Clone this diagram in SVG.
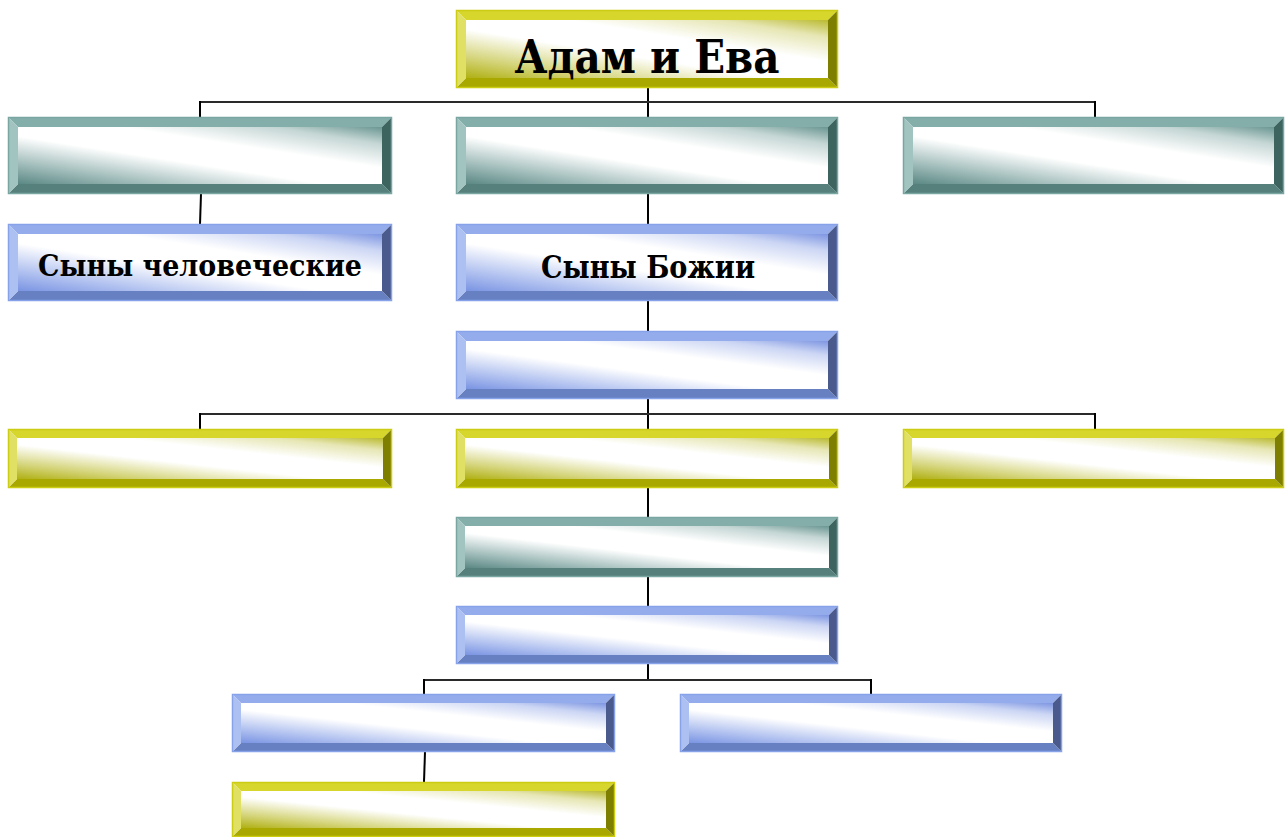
<svg xmlns="http://www.w3.org/2000/svg" width="1285" height="837" viewBox="0 0 1285 837">
<defs>
<linearGradient id="gy" x1="0" y1="1" x2="1" y2="0">
<stop offset="0" stop-color="#b0b014"/><stop offset="0.18" stop-color="#d4d47a"/><stop offset="0.42" stop-color="#ffffff"/><stop offset="0.64" stop-color="#ffffff"/><stop offset="0.85" stop-color="#e6e6b4"/><stop offset="1" stop-color="#baba30"/>
</linearGradient>
<linearGradient id="gt" x1="0" y1="1" x2="1" y2="0">
<stop offset="0" stop-color="#5b8884"/><stop offset="0.18" stop-color="#a0bcba"/><stop offset="0.42" stop-color="#ffffff"/><stop offset="0.64" stop-color="#ffffff"/><stop offset="0.85" stop-color="#c4d6d4"/><stop offset="1" stop-color="#6a9692"/>
</linearGradient>
<linearGradient id="gb" x1="0" y1="1" x2="1" y2="0">
<stop offset="0" stop-color="#7a94e2"/><stop offset="0.18" stop-color="#b2c2f0"/><stop offset="0.42" stop-color="#ffffff"/><stop offset="0.64" stop-color="#ffffff"/><stop offset="0.85" stop-color="#ccd6f4"/><stop offset="1" stop-color="#7e96e2"/>
</linearGradient>
</defs>
<style>
.yl .top{fill:#d6d62c}.yl .lft{fill:#e0e064}.yl .rgt{fill:#7e7e00}.yl .bot{fill:#a8a800}.yl .face{fill:url(#gy)}.yl .edge{stroke:#cccc14}
.tl .top{fill:#84aeaa}.tl .lft{fill:#a2c4c0}.tl .rgt{fill:#3e6460}.tl .bot{fill:#55807c}.tl .face{fill:url(#gt)}.tl .edge{stroke:#7aa6a2}
.bl .top{fill:#94acec}.bl .lft{fill:#acc0f2}.bl .rgt{fill:#4a5a8c}.bl .bot{fill:#6680c2}.bl .face{fill:url(#gb)}.bl .edge{stroke:#88a2ea}
.edge{fill:none;stroke-width:1.5}
.ln{stroke:#000;stroke-width:2;fill:none}
.hl{stroke:#2a2a2a;stroke-width:2;fill:none}
.lbl{font-family:"DejaVu Serif","Liberation Serif",serif;font-weight:bold;fill:#000;text-anchor:middle}
</style>
<g id="connectors">
<path class="ln" d="M648 88V117"/>
<path class="hl" d="M200 102H1095"/>
<path class="ln" d="M200 101V117M1095 101V117"/>
<path class="ln" d="M201 194L200 224"/>
<path class="ln" d="M648 194V224"/>
<path class="ln" d="M648 301V331"/>
<path class="ln" d="M648 399V429"/>
<path class="hl" d="M200 414H1095"/>
<path class="ln" d="M200 413V429M1095 413V429"/>
<path class="ln" d="M648 488V517"/>
<path class="ln" d="M648 577V606"/>
<path class="ln" d="M648 664V681"/>
<path class="hl" d="M424 680H871"/>
<path class="ln" d="M424 679V694M871 679V694"/>
<path class="ln" d="M425 752L424 782"/>
</g>
<g id="n-adam" class="yl">
<polygon class="top" points="456,10 838,10 828,20 466,20"/>
<polygon class="bot" points="456,88 838,88 828,78 466,78"/>
<polygon class="lft" points="456,10 466,20 466,78 456,88"/>
<polygon class="rgt" points="838,10 828,20 828,78 838,88"/>
<rect class="face" x="466" y="20" width="362" height="58"/>
<rect class="edge" x="456.5" y="10.5" width="381" height="77"/>
<text class="lbl" x="647" y="73" font-size="46" textLength="265" lengthAdjust="spacingAndGlyphs">Адам и Ева</text>
</g>
<g id="n-t1" class="tl">
<polygon class="top" points="8,117 392,117 382,127 18,127"/>
<polygon class="bot" points="8,194 392,194 382,184 18,184"/>
<polygon class="lft" points="8,117 18,127 18,184 8,194"/>
<polygon class="rgt" points="392,117 382,127 382,184 392,194"/>
<rect class="face" x="18" y="127" width="364" height="57"/>
<rect class="edge" x="8.5" y="117.5" width="383" height="76"/>
</g>
<g id="n-t2" class="tl">
<polygon class="top" points="456,117 838,117 828,127 466,127"/>
<polygon class="bot" points="456,194 838,194 828,184 466,184"/>
<polygon class="lft" points="456,117 466,127 466,184 456,194"/>
<polygon class="rgt" points="838,117 828,127 828,184 838,194"/>
<rect class="face" x="466" y="127" width="362" height="57"/>
<rect class="edge" x="456.5" y="117.5" width="381" height="76"/>
</g>
<g id="n-t3" class="tl">
<polygon class="top" points="903,117 1284,117 1274,127 913,127"/>
<polygon class="bot" points="903,194 1284,194 1274,184 913,184"/>
<polygon class="lft" points="903,117 913,127 913,184 903,194"/>
<polygon class="rgt" points="1284,117 1274,127 1274,184 1284,194"/>
<rect class="face" x="913" y="127" width="361" height="57"/>
<rect class="edge" x="903.5" y="117.5" width="380" height="76"/>
</g>
<g id="n-sons-men" class="bl">
<polygon class="top" points="8,224 392,224 382,234 18,234"/>
<polygon class="bot" points="8,301 392,301 382,291 18,291"/>
<polygon class="lft" points="8,224 18,234 18,291 8,301"/>
<polygon class="rgt" points="392,224 382,234 382,291 392,301"/>
<rect class="face" x="18" y="234" width="364" height="57"/>
<rect class="edge" x="8.5" y="224.5" width="383" height="76"/>
<text class="lbl" x="200" y="276" font-size="30" textLength="324" lengthAdjust="spacingAndGlyphs">Сыны человеческие</text>
</g>
<g id="n-sons-god" class="bl">
<polygon class="top" points="456,224 838,224 828,234 466,234"/>
<polygon class="bot" points="456,301 838,301 828,291 466,291"/>
<polygon class="lft" points="456,224 466,234 466,291 456,301"/>
<polygon class="rgt" points="838,224 828,234 828,291 838,301"/>
<rect class="face" x="466" y="234" width="362" height="57"/>
<rect class="edge" x="456.5" y="224.5" width="381" height="76"/>
<text class="lbl" x="648" y="278" font-size="31" textLength="214" lengthAdjust="spacingAndGlyphs">Сыны Божии</text>
</g>
<g id="n-b4" class="bl">
<polygon class="top" points="456,331 838,331 828,341 466,341"/>
<polygon class="bot" points="456,399 838,399 828,389 466,389"/>
<polygon class="lft" points="456,331 466,341 466,389 456,399"/>
<polygon class="rgt" points="838,331 828,341 828,389 838,399"/>
<rect class="face" x="466" y="341" width="362" height="48"/>
<rect class="edge" x="456.5" y="331.5" width="381" height="67"/>
</g>
<g id="n-y1" class="yl">
<polygon class="top" points="8,429 392,429 383,438 17,438"/>
<polygon class="bot" points="8,488 392,488 383,479 17,479"/>
<polygon class="lft" points="8,429 17,438 17,479 8,488"/>
<polygon class="rgt" points="392,429 383,438 383,479 392,488"/>
<rect class="face" x="17" y="438" width="366" height="41"/>
<rect class="edge" x="8.5" y="429.5" width="383" height="58"/>
</g>
<g id="n-y2" class="yl">
<polygon class="top" points="456,429 838,429 829,438 465,438"/>
<polygon class="bot" points="456,488 838,488 829,479 465,479"/>
<polygon class="lft" points="456,429 465,438 465,479 456,488"/>
<polygon class="rgt" points="838,429 829,438 829,479 838,488"/>
<rect class="face" x="465" y="438" width="364" height="41"/>
<rect class="edge" x="456.5" y="429.5" width="381" height="58"/>
</g>
<g id="n-y3" class="yl">
<polygon class="top" points="903,429 1284,429 1275,438 912,438"/>
<polygon class="bot" points="903,488 1284,488 1275,479 912,479"/>
<polygon class="lft" points="903,429 912,438 912,479 903,488"/>
<polygon class="rgt" points="1284,429 1275,438 1275,479 1284,488"/>
<rect class="face" x="912" y="438" width="363" height="41"/>
<rect class="edge" x="903.5" y="429.5" width="380" height="58"/>
</g>
<g id="n-t6" class="tl">
<polygon class="top" points="456,517 838,517 829,526 465,526"/>
<polygon class="bot" points="456,577 838,577 829,568 465,568"/>
<polygon class="lft" points="456,517 465,526 465,568 456,577"/>
<polygon class="rgt" points="838,517 829,526 829,568 838,577"/>
<rect class="face" x="465" y="526" width="364" height="42"/>
<rect class="edge" x="456.5" y="517.5" width="381" height="59"/>
</g>
<g id="n-b7" class="bl">
<polygon class="top" points="456,606 838,606 829,615 465,615"/>
<polygon class="bot" points="456,664 838,664 829,655 465,655"/>
<polygon class="lft" points="456,606 465,615 465,655 456,664"/>
<polygon class="rgt" points="838,606 829,615 829,655 838,664"/>
<rect class="face" x="465" y="615" width="364" height="40"/>
<rect class="edge" x="456.5" y="606.5" width="381" height="57"/>
</g>
<g id="n-b8a" class="bl">
<polygon class="top" points="232,694 615,694 606,703 241,703"/>
<polygon class="bot" points="232,752 615,752 606,743 241,743"/>
<polygon class="lft" points="232,694 241,703 241,743 232,752"/>
<polygon class="rgt" points="615,694 606,703 606,743 615,752"/>
<rect class="face" x="241" y="703" width="365" height="40"/>
<rect class="edge" x="232.5" y="694.5" width="382" height="57"/>
</g>
<g id="n-b8b" class="bl">
<polygon class="top" points="680,694 1062,694 1053,703 689,703"/>
<polygon class="bot" points="680,752 1062,752 1053,743 689,743"/>
<polygon class="lft" points="680,694 689,703 689,743 680,752"/>
<polygon class="rgt" points="1062,694 1053,703 1053,743 1062,752"/>
<rect class="face" x="689" y="703" width="364" height="40"/>
<rect class="edge" x="680.5" y="694.5" width="381" height="57"/>
</g>
<g id="n-y9" class="yl">
<polygon class="top" points="232,782 615,782 606,791 241,791"/>
<polygon class="bot" points="232,837 615,837 606,828 241,828"/>
<polygon class="lft" points="232,782 241,791 241,828 232,837"/>
<polygon class="rgt" points="615,782 606,791 606,828 615,837"/>
<rect class="face" x="241" y="791" width="365" height="37"/>
<rect class="edge" x="232.5" y="782.5" width="382" height="54"/>
</g>
</svg>
